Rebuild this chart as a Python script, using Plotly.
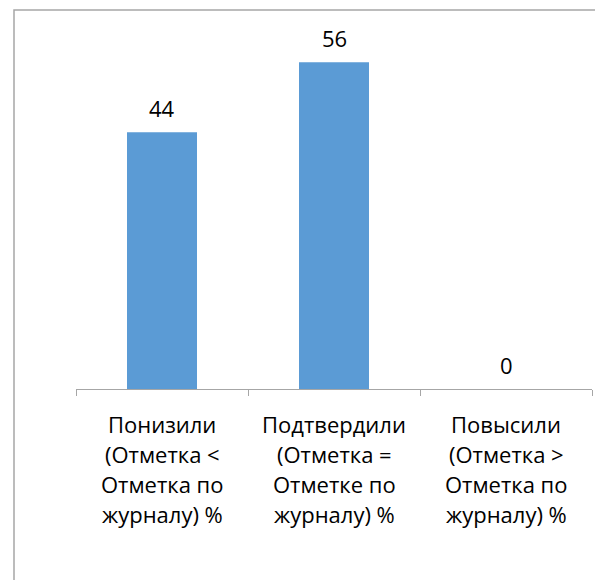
import plotly.graph_objects as go

# Data
categories = [
    "Понизили (Отметка < Отметка по журналу) %",
    "Подтвердили (Отметка = Отметке по журналу) %",
    "Повысили (Отметка > Отметка по журналу) %",
]
category_lines = [
    ["Понизили", "(Отметка <", "Отметка по", "журналу) %"],
    ["Подтвердили", "(Отметка =", "Отметке по", "журналу) %"],
    ["Повысили", "(Отметка >", "Отметка по", "журналу) %"],
]
values = [44, 56, 0]

W, H = 595, 580
ML, MR, MT, MB = 76, 3, 39, 191
FONT = "Open Sans"
TXT = "#000000"

fig = go.Figure()
fig.add_trace(go.Bar(
    x=categories, y=values,
    marker=dict(color="#5B9BD5", line=dict(width=0)),
    hoverinfo="skip",
))

annotations = []
# data labels
for c, v in zip(categories, values):
    annotations.append(dict(
        x=c, y=v, xref="x", yref="y", text=str(v), showarrow=False,
        yanchor="bottom", yshift=7,
        font=dict(family=FONT, size=22, color=TXT),
    ))
# category labels, one annotation per line
for c, lines in zip(categories, category_lines):
    for i, line in enumerate(lines):
        annotations.append(dict(
            x=c, y=0, xref="x", yref="y", text=line, showarrow=False,
            yanchor="middle", yshift=-(35 + 30 * i),
            font=dict(family=FONT, size=22, color=TXT),
        ))

pw = W - ML - MR
ph = H - MT - MB
fig.update_layout(
    width=W, height=H,
    margin=dict(l=ML, r=MR, t=MT, b=MB),
    paper_bgcolor="white", plot_bgcolor="white",
    bargap=0.593,
    showlegend=False,
    annotations=annotations,
    xaxis=dict(
        type="category", range=[-0.5, 2.5], showticklabels=False,
        showline=True, linecolor="#A6A6A6", linewidth=1,
        ticks="outside", tickson="boundaries", ticklen=6,
        tickcolor="#A6A6A6", showgrid=False, zeroline=False, fixedrange=True,
    ),
    yaxis=dict(
        range=[0, 60], visible=False, showgrid=False, zeroline=False,
        fixedrange=True,
    ),
    shapes=[dict(
        type="rect", xref="paper", yref="paper",
        x0=(14 - ML) / pw, x1=(W + 10 - ML) / pw,
        y0=(H - MB - (H + 10)) / ph, y1=(H - MB - 10) / ph,
        line=dict(color="#A6A6A6", width=1.5), fillcolor="rgba(0,0,0,0)",
        layer="below",
    )],
)

fig.write_html(
    "out.html",
    config={"displayModeBar": False},
    post_script="document.body.style.margin='0px';document.body.style.overflow='hidden';",
)
